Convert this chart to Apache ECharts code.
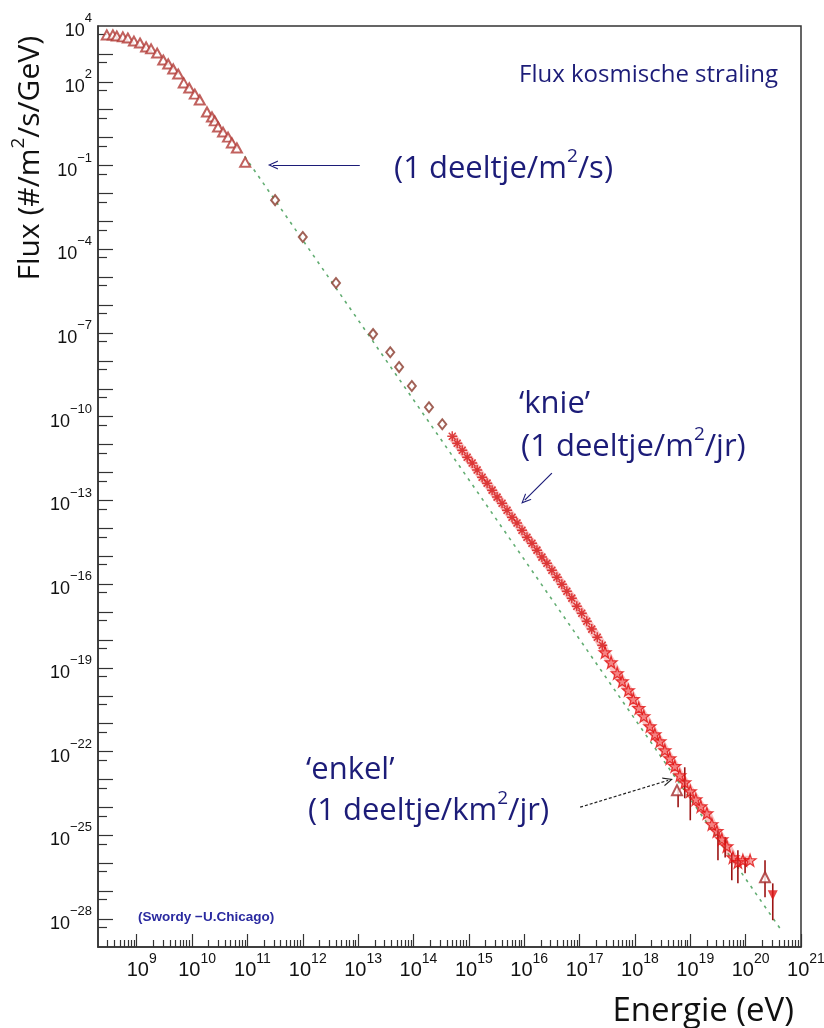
<!DOCTYPE html>
<html><head><meta charset="utf-8">
<script src="https://cdn.jsdelivr.net/npm/echarts@6/dist/echarts.min.js"></script>
<style>html,body{margin:0;padding:0;background:#fff}#c{width:824px;height:1028px}</style>
</head><body><div id="c"></div>
<script>
// All values in log10 units: x = log10(E / eV), y = log10(flux / (m^-2 s^-1 GeV^-1))
const lowEnergy = [[8.46,3.68],[8.57,3.68],[8.64,3.64],[8.75,3.61],[8.84,3.57],[8.95,3.46],[9.06,3.39],[9.17,3.25],[9.26,3.18],[9.37,3.03],[9.48,2.78],[9.57,2.64],[9.66,2.46],[9.75,2.28],[9.85,1.96],[9.95,1.78],[10.05,1.56],[10.14,1.35],[10.27,0.92],[10.36,0.74],[10.41,0.60],[10.47,0.38],[10.56,0.20],[10.65,0.02],[10.72,-0.19],[10.81,-0.37],[10.96,-0.88]];
const directMeas = [[11.50,-2.24],[12.00,-3.56],[12.60,-5.21],[13.27,-7.04],[13.58,-7.69],[13.74,-8.22],[13.97,-8.90],[14.28,-9.66],[14.52,-10.27]];
const airShower = [[14.70,-10.70],[14.79,-10.95],[14.88,-11.20],[14.97,-11.45],[15.06,-11.66],[15.15,-11.91],[15.24,-12.17],[15.33,-12.38],[15.42,-12.63],[15.51,-12.88],[15.60,-13.10],[15.69,-13.35],[15.78,-13.60],[15.87,-13.81],[15.96,-14.07],[16.05,-14.32],[16.14,-14.53],[16.23,-14.78],[16.32,-15.03],[16.41,-15.25],[16.50,-15.50],[16.59,-15.75],[16.68,-16.00],[16.77,-16.25],[16.86,-16.50],[16.95,-16.79],[17.04,-17.04],[17.13,-17.33],[17.22,-17.61],[17.32,-17.90],[17.41,-18.19]];
const ultraHigh = [[17.46,-18.44],[17.57,-18.80],[17.68,-19.19],[17.77,-19.48],[17.88,-19.80],[17.97,-20.12],[18.07,-20.44],[18.16,-20.73],[18.27,-21.09],[18.36,-21.38],[18.45,-21.63],[18.54,-21.95],[18.63,-22.24],[18.72,-22.52],[18.81,-22.85],[18.90,-23.10],[19.00,-23.42],[19.10,-23.71],[19.19,-23.96],[19.30,-24.21],[19.39,-24.60],[19.48,-24.85],[19.57,-25.14],[19.66,-25.39],[19.77,-25.79],[19.86,-25.96],[19.95,-25.89],[20.08,-25.89]];
const errorBars = [[18.78,-23.99,-23.31],[18.90,-23.67,-22.56],[19.00,-24.46,-23.46],[19.50,-25.89,-24.82],[19.63,-25.79,-25.07],[19.75,-26.61,-25.64],[19.86,-26.72,-25.53],[19.99,-26.36,-25.79],[20.35,-27.22,-25.89],[20.49,-28.04,-26.72]];
const openTriangles = [[18.76,-23.38],[20.35,-26.50]];
const filledDown = [[20.49,-27.15]];
const fitLine = [[10.95,-0.67],[20.62,-28.33]];
const arrowLines = [[[13.03,-0.98],[11.46,-0.98]],[[16.50,-12.02],[16.01,-12.99]]];
const dashedArrow = [[[17.01,-23.99],[18.60,-23.03]]];

// axis ranges and tick positions (decades)
const X_MIN = Math.log10(2e8), X_MAX = 21, Y_MIN = -29, Y_MAX = 4;
const xLabelVals = [9,10,11,12,13,14,15,16,17,18,19,20,21];
const yLabelVals = [4,2,-1,-4,-7,-10,-13,-16,-19,-22,-25,-28];
const xMinorVals = [];
for (let n = 8; n <= 20; n++) for (let k = 2; k <= 9; k++) { const v = n + Math.log10(k); if (v > X_MIN + 1e-6 && v < X_MAX) xMinorVals.push(v); }
const yDecadeVals = [];
for (let n = -28; n <= 3; n++) yDecadeVals.push(n);
const yHalfVals = [];
for (let n = -28; n <= 4; n++) yHalfVals.push(n - Math.log10(2));

const navy = '#1c1c78';
const chevron = 'path://M5,0L10,10L8.6,10L5,2.6L1.4,10L0,10Z';
const asterisk = 'path://M5,0L5,10M0,5L10,5M1.5,1.5L8.5,8.5M1.5,8.5L8.5,1.5';
const star = 'path://M5,0L6.2,3.6L10,3.6L7,5.9L8.1,9.5L5,7.3L1.9,9.5L3,5.9L0,3.6L3.8,3.6Z';

function expLabel(v) {
  const n = Math.round(v);
  return '{b|10}{s|' + (n < 0 ? '\u2212' + (-n) : n) + '}';
}
const annRich = {a:{fontFamily:'Open Sans', fontSize:31, lineHeight:38, verticalAlign:'bottom', fill:navy},
                 s:{fontFamily:'Open Sans', fontSize:19, lineHeight:19, verticalAlign:'top', fill:navy}};

const chart = echarts.init(document.getElementById('c'), null, {renderer: 'canvas'});
const baseX = {type:'value', min:X_MIN, max:X_MAX, position:'bottom', gridIndex:0, splitLine:{show:false}};
const baseY = {type:'value', min:Y_MIN, max:Y_MAX, position:'left', gridIndex:0, splitLine:{show:false}};
chart.setOption({
  animation: false,
  backgroundColor: '#fff',
  grid: {left:98, right:23, top:26, bottom:81, show:true, borderColor:'#333', borderWidth:1.5, backgroundColor:'#fff', containLabel:false, outerBoundsMode:'none'},
  xAxis: [
    Object.assign({}, baseX, {
      axisLine:{show:true, onZero:false, lineStyle:{color:'#333', width:1.5}},
      axisTick:{show:true, inside:true, length:13, customValues:xLabelVals, lineStyle:{color:'#333', width:1.2}},
      axisLabel:{show:true, margin:5, customValues:xLabelVals, formatter:expLabel, color:'#111', padding:[0,0,0,10],
        rich:{b:{fontFamily:'Liberation Sans', fontSize:20, lineHeight:28, verticalAlign:'bottom', color:'#111'},
              s:{fontFamily:'Liberation Sans', fontSize:14, lineHeight:14, verticalAlign:'top', color:'#111'}}}
    }),
    Object.assign({}, baseX, {
      axisLine:{show:false, onZero:false},
      axisTick:{show:true, inside:true, length:7, customValues:xMinorVals, lineStyle:{color:'#333', width:1.2}},
      axisLabel:{show:false}
    })
  ],
  yAxis: [
    Object.assign({}, baseY, {
      axisLine:{show:true, onZero:false, lineStyle:{color:'#333', width:1.5}},
      axisTick:{show:true, inside:true, length:15, customValues:yDecadeVals, lineStyle:{color:'#333', width:1.2}},
      axisLabel:{show:true, margin:6, customValues:yLabelVals, formatter:expLabel, color:'#111',
        rich:{b:{fontFamily:'Liberation Sans', fontSize:18, lineHeight:28, verticalAlign:'bottom', color:'#111'},
              s:{fontFamily:'Liberation Sans', fontSize:13, lineHeight:13, verticalAlign:'top', color:'#111'}}}
    }),
    Object.assign({}, baseY, {
      axisLine:{show:false, onZero:false},
      axisTick:{show:true, inside:true, length:9, customValues:yHalfVals, lineStyle:{color:'#333', width:1.2}},
      axisLabel:{show:false}
    })
  ],
  series: [
    {type:'line', name:'fit', data:fitLine, xAxisIndex:0, yAxisIndex:0, showSymbol:false, silent:true, z:1,
     lineStyle:{color:'#62ad72', width:1.6, type:[3,5]},
     markLine:{silent:true, symbol:['none', chevron], symbolSize:[9,10], label:{show:false},
       lineStyle:{color:navy, width:1.2, type:'solid'},
       data: arrowLines.map(a => [{coord:a[0]},{coord:a[1]}])}},
    {type:'line', name:'dashedArrow', data:[], xAxisIndex:0, yAxisIndex:0, showSymbol:false, silent:true,
     markLine:{silent:true, symbol:['none', chevron], symbolSize:[9,10], label:{show:false},
       lineStyle:{color:'#222', width:1.2, type:[3,2]},
       data: dashedArrow.map(a => [{coord:a[0]},{coord:a[1]}])}},
    {type:'line', name:'halo', data:airShower.concat(ultraHigh), xAxisIndex:0, yAxisIndex:0, showSymbol:false, silent:true, z:2,
     lineStyle:{color:'rgba(235,40,40,0.28)', width:9}},
    {type:'scatter', name:'low', data:lowEnergy, symbol:'emptyTriangle', symbolSize:[10,9], z:3,
     itemStyle:{color:'#b23a36', borderWidth:1.1}},
    {type:'scatter', name:'direct', data:directMeas, symbol:'emptyDiamond', symbolSize:[8,10], z:3,
     itemStyle:{color:'#8a3a2c', borderWidth:1.1}},
    {type:'custom', name:'err', data:errorBars, z:3, silent:true, encode:{x:0, y:[1,2]},
     renderItem:function(params, api){
       const p1 = api.coord([api.value(0), api.value(1)]);
       const p2 = api.coord([api.value(0), api.value(2)]);
       return {type:'line', shape:{x1:p1[0], y1:p1[1], x2:p2[0], y2:p2[1]}, style:{stroke:'#9c1414', lineWidth:1.6}};
     }},
    {type:'scatter', name:'air', data:airShower, symbol:asterisk, symbolSize:10, z:4,
     itemStyle:{color:'rgba(0,0,0,0)', borderColor:'#d41414', borderWidth:1.5}},
    {type:'scatter', name:'uhe', data:ultraHigh, symbol:star, symbolSize:12, z:4,
     itemStyle:{color:'rgba(240,60,60,0.6)', borderColor:'#e01010', borderWidth:1.2}},
    {type:'scatter', name:'openTri', data:openTriangles, symbol:'emptyTriangle', symbolSize:[10,10], z:5,
     itemStyle:{color:'#a52a2a', borderWidth:1.2}},
    {type:'scatter', name:'down', data:filledDown, symbol:'triangle', symbolRotate:180, symbolSize:[10,10], z:5,
     itemStyle:{color:'#e01818'}}
  ],
  graphic: [
    {type:'text', x:519, y:75, style:{text:'Flux kosmische straling', fontFamily:'Open Sans', fontSize:24, fill:navy, align:'left', verticalAlign:'middle'}},
    {type:'text', x:394, y:166, style:{text:'{a|(1 deeltje/m}{s|2}{a|/s)}', align:'left', verticalAlign:'middle', rich:annRich}},
    {type:'text', x:519, y:404, style:{text:'\u2018knie\u2019', fontFamily:'Open Sans', fontSize:31, fill:navy, align:'left', verticalAlign:'middle'}},
    {type:'text', x:521, y:444, style:{text:'{a|(1 deeltje/m}{s|2}{a|/jr)}', align:'left', verticalAlign:'middle', rich:annRich}},
    {type:'text', x:306, y:770, style:{text:'\u2018enkel\u2019', fontFamily:'Open Sans', fontSize:31, fill:navy, align:'left', verticalAlign:'middle'}},
    {type:'text', x:308, y:808, style:{text:'{a|(1 deeltje/km}{s|2}{a|/jr)}', align:'left', verticalAlign:'middle', rich:annRich}},
    {type:'text', x:138, y:917, style:{text:'(Swordy \u2212U.Chicago)', fontFamily:'Liberation Sans', fontWeight:'bold', fontSize:13.5, fill:'#2a2aa0', align:'left', verticalAlign:'middle'}},
    {type:'text', x:794, y:1012, style:{text:'Energie (eV)', fontFamily:'Open Sans', fontSize:33, fill:'#111', align:'right', verticalAlign:'middle'}},
    {type:'text', x:27, y:36, rotation:Math.PI/2, style:{text:'{a|Flux (#/m}{s|2}{a|/s/GeV)}', align:'right', verticalAlign:'middle',
      rich:{a:{fontFamily:'Open Sans', fontSize:30, lineHeight:36, verticalAlign:'bottom', fill:'#111'}, s:{fontFamily:'Open Sans', fontSize:19, lineHeight:19, verticalAlign:'top', fill:'#111'}}}}
  ]
});
</script></body></html>
